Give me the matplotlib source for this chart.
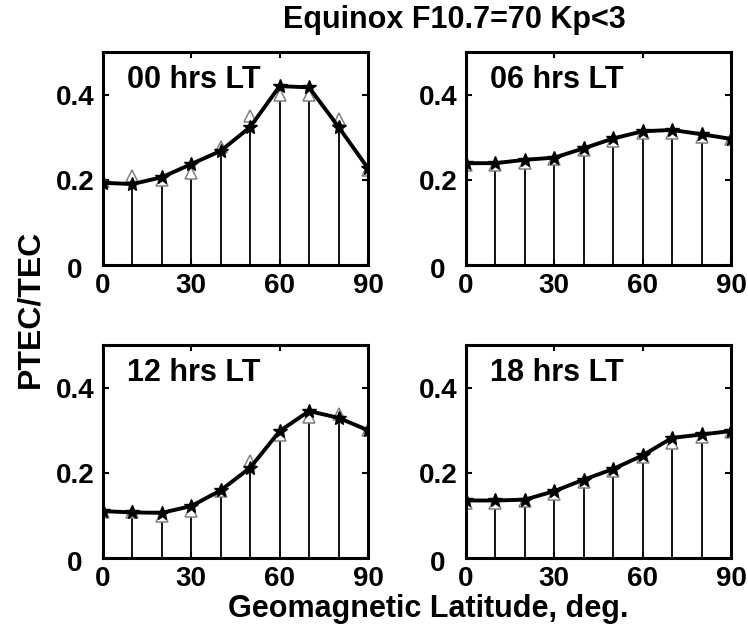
import matplotlib
matplotlib.use("Agg")
import matplotlib.pyplot as plt
from matplotlib.transforms import ScaledTranslation

plt.rcParams['font.family'] = ['Liberation Sans', 'DejaVu Sans']
plt.rcParams['font.weight'] = 'bold'

lat = [0, 10, 20, 30, 40, 50, 60, 70, 80, 90]
panel_titles = ["00 hrs LT", "06 hrs LT", "12 hrs LT", "18 hrs LT"]

# star series (drawn with line and stems)
ptec_00 = [0.193, 0.190, 0.206, 0.237, 0.268, 0.324, 0.420, 0.417, 0.324, 0.227]
ptec_06 = [0.239, 0.239, 0.247, 0.252, 0.274, 0.297, 0.314, 0.317, 0.307, 0.296]
ptec_12 = [0.110, 0.107, 0.106, 0.122, 0.159, 0.212, 0.298, 0.345, 0.329, 0.300]
ptec_18 = [0.135, 0.135, 0.137, 0.157, 0.184, 0.209, 0.241, 0.282, 0.290, 0.298]

# triangle series
tri_00 = [0.197, 0.208, 0.200, 0.216, 0.278, 0.350, 0.400, 0.400, 0.343, 0.222]
tri_06 = [0.235, 0.235, 0.240, 0.248, 0.270, 0.292, 0.310, 0.310, 0.300, 0.295]
tri_12 = [0.107, 0.107, 0.098, 0.110, 0.157, 0.227, 0.288, 0.330, 0.337, 0.300]
tri_18 = [0.130, 0.128, 0.133, 0.150, 0.178, 0.205, 0.236, 0.270, 0.285, 0.295]

stars = [ptec_00, ptec_06, ptec_12, ptec_18]
tris = [tri_00, tri_06, tri_12, tri_18]

fig = plt.figure(figsize=(7.48, 6.3), dpi=100)
positions = [
    [0.1377, 0.5794, 0.3543, 0.338],
    [0.6230, 0.5794, 0.3543, 0.338],
    [0.1377, 0.1143, 0.3543, 0.338],
    [0.6230, 0.1143, 0.3543, 0.338],
]

for pos, title, s, t in zip(positions, panel_titles, stars, tris):
    ax = fig.add_axes(pos)
    ax.vlines(lat, 0, s, color='black', lw=1.3)
    ax.plot(lat, t, linestyle='none', marker='^', markersize=8,
            markerfacecolor='white', markeredgecolor='#808080', markeredgewidth=1.1)
    ax.plot(lat, s, color='black', lw=2.8, marker='*', markersize=10)
    ax.set_xlim(0, 90)
    ax.set_ylim(0, 0.5)
    ax.set_xticks([0, 30, 60, 90])
    ax.set_yticks([0, 0.2, 0.4])
    ax.set_yticklabels(['0', '0.2', '0.4'])
    ax.tick_params(direction='in', length=4, width=1.5, top=True, right=True,
                   labelsize=20, pad=6)
    # the "0" y label sits a bit further left and lower in the original
    zero_lbl = ax.get_yticklabels()[0]
    zero_lbl.set_transform(zero_lbl.get_transform() +
                           ScaledTranslation(-0.12, -0.03, fig.dpi_scale_trans))
    for sp in ax.spines.values():
        sp.set_linewidth(2.2)
    ax.text(0.09, 0.83, title, transform=ax.transAxes, fontsize=22,
            fontweight='bold', va='baseline', ha='left')

fig.text(0.607, 0.9556, "Equinox F10.7=70 Kp<3", fontsize=22, fontweight='bold',
         ha='center', va='baseline')
fig.text(0.040, 0.5095, "PTEC/TEC", fontsize=23, fontweight='bold', rotation=90,
         ha='center', va='center')
fig.text(0.572, 0.0206, "Geomagnetic Latitude, deg.", fontsize=22, fontweight='bold',
         ha='center', va='baseline')

fig.savefig("out.png", dpi=100)
